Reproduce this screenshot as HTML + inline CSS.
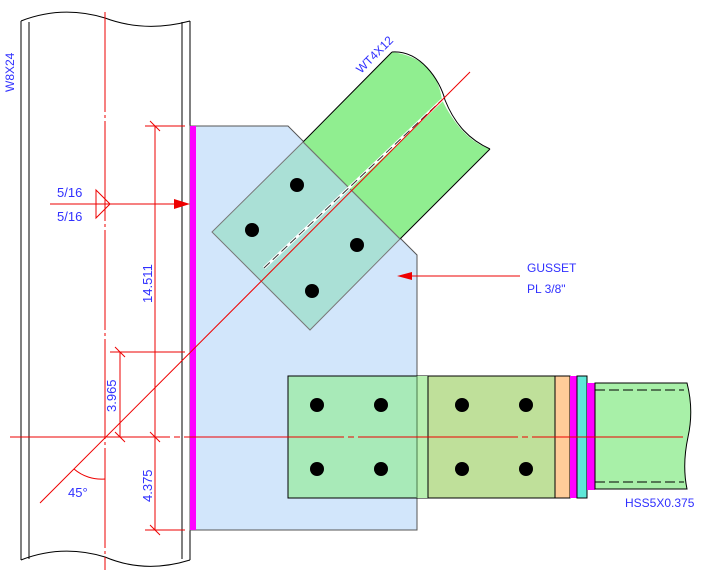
<!DOCTYPE html>
<html><head><style>body{margin:0;background:#fff}svg{display:block}text{font-family:"Liberation Sans",sans-serif;font-size:12px;fill:#3030ff}</style></head><body>
<svg width="704" height="578" viewBox="0 0 704 578" xmlns="http://www.w3.org/2000/svg">
<path d="M21,21 Q62,5 105,18 Q145,33 190,21" fill="none" stroke="#000" stroke-width="1"/>
<path d="M21,560 Q62,544 105,557 Q145,574 190,560" fill="none" stroke="#000" stroke-width="1"/>
<line x1="21" y1="21" x2="21" y2="560" stroke="#000"/>
<line x1="29" y1="22" x2="29" y2="559" stroke="#000"/>
<line x1="182" y1="22" x2="182" y2="559" stroke="#000"/>
<line x1="190" y1="21" x2="190" y2="560" stroke="#000"/>
<line x1="105" y1="12" x2="105" y2="570" stroke="#e00" stroke-dasharray="100,3,3,3"/>
<text transform="translate(14,92) rotate(-90)">W8X24</text>
<path d="M190,126 L288,126 L417,255 L417,530 L190,530 Z" fill="#d2e6fb" stroke="#555" stroke-width="1"/>
<rect x="190" y="126" width="6" height="404" fill="#f0f"/>
<path d="M303,142 L392,52 Q436,58 442,100 Q462,140 490,149 L400,239 Z" fill="#90ee90" stroke="none"/>
<path d="M303,142 L392,52 M490,149 L400,239 L303,142" fill="none" stroke="#000"/>
<path d="M392,52 C420,50 440,80 445,100 C455,125 470,140 490,149" fill="none" stroke="#000"/>
<path d="M303,142 L212,232 L310,330 L400,239 Z" fill="#a5dfd2" fill-opacity="0.9" stroke="#777"/>
<line x1="264" y1="268" x2="442" y2="100" stroke="#fff" stroke-width="3"/>
<line x1="264" y1="268" x2="442" y2="100" stroke="#333" stroke-width="1" stroke-dasharray="8,4"/>
<line x1="40" y1="503" x2="470" y2="72" stroke="#e00" stroke-width="1"/>
<g fill="#000"><circle cx="297" cy="185" r="7"/><circle cx="252" cy="230" r="7"/><circle cx="357" cy="245" r="7"/><circle cx="312" cy="291" r="7"/></g>
<text transform="translate(361,74) rotate(-45)">WT4X12</text>
<line x1="410" y1="276" x2="520" y2="276" stroke="#e00"/>
<path d="M397,276 L412,272 L412,280 Z" fill="#e00"/>
<text x="527" y="272">GUSSET</text>
<text x="527" y="293">PL 3/8"</text>
<rect x="288" y="376" width="140" height="122" fill="#a8eab8" stroke="#000"/>
<rect x="417" y="376" width="11" height="122" fill="#b8f0b0"/>
<line x1="417" y1="376" x2="417" y2="498" stroke="#4a7a4a"/>
<rect x="428" y="376" width="127" height="122" fill="#bfe09a" stroke="#000"/>
<rect x="555" y="376" width="15" height="122" fill="#fc9" stroke="#000"/>
<rect x="570" y="376" width="7" height="122" fill="#f0f"/>
<rect x="577" y="376" width="10" height="122" fill="#5ee8d8" stroke="#000"/>
<rect x="587" y="383" width="8" height="107" fill="#f0f"/>
<path d="M595,383 L687,383 Q694,410 688,437 Q682,465 687,489 L595,489 Z" fill="#a8f0a8" stroke="#000"/>
<line x1="595" y1="390" x2="684" y2="390" stroke="#000" stroke-dasharray="10,4"/>
<line x1="595" y1="482" x2="684" y2="482" stroke="#000" stroke-dasharray="10,4"/>
<g fill="#000"><circle cx="317" cy="405" r="7"/><circle cx="381" cy="405" r="7"/><circle cx="462" cy="405" r="7"/><circle cx="526" cy="405" r="7"/>
<circle cx="317" cy="469" r="7"/><circle cx="381" cy="469" r="7"/><circle cx="462" cy="469" r="7"/><circle cx="526" cy="469" r="7"/></g>
<line x1="10" y1="437" x2="683" y2="437" stroke="#e00" stroke-dasharray="160,4,6,4"/>
<text x="625" y="507">HSS5X0.375</text>
<g stroke="#e00" fill="none">
<line x1="155" y1="126" x2="155" y2="530"/>
<line x1="145" y1="126" x2="185" y2="126"/>
<line x1="145" y1="530" x2="185" y2="530"/>
<line x1="150" y1="121" x2="160" y2="131"/><line x1="150" y1="432" x2="160" y2="442"/><line x1="150" y1="525" x2="160" y2="535"/>
<line x1="120" y1="352" x2="120" y2="437"/>
<line x1="110" y1="352" x2="185" y2="352"/>
<line x1="115" y1="347" x2="125" y2="357"/><line x1="115" y1="432" x2="125" y2="442"/>
<line x1="50" y1="204" x2="180" y2="204"/>
<path d="M96,190 L110,204 L96,218 Z"/>
<path d="M74,469 A42,42 0 0 0 105,479"/>
</g>
<path d="M190,204 L174,199 L174,209 Z" fill="#e00"/>
<text x="57" y="197" style="font-size:13px">5/16</text>
<text x="57" y="221" style="font-size:13px">5/16</text>
<text x="68" y="497" style="font-size:13px">45°</text>
<text transform="translate(152,303) rotate(-90)" style="font-size:13px">14.511</text>
<text transform="translate(116,412) rotate(-90)" style="font-size:13px">3.965</text>
<text transform="translate(152,502) rotate(-90)" style="font-size:13px">4.375</text>
</svg>
</body></html>
